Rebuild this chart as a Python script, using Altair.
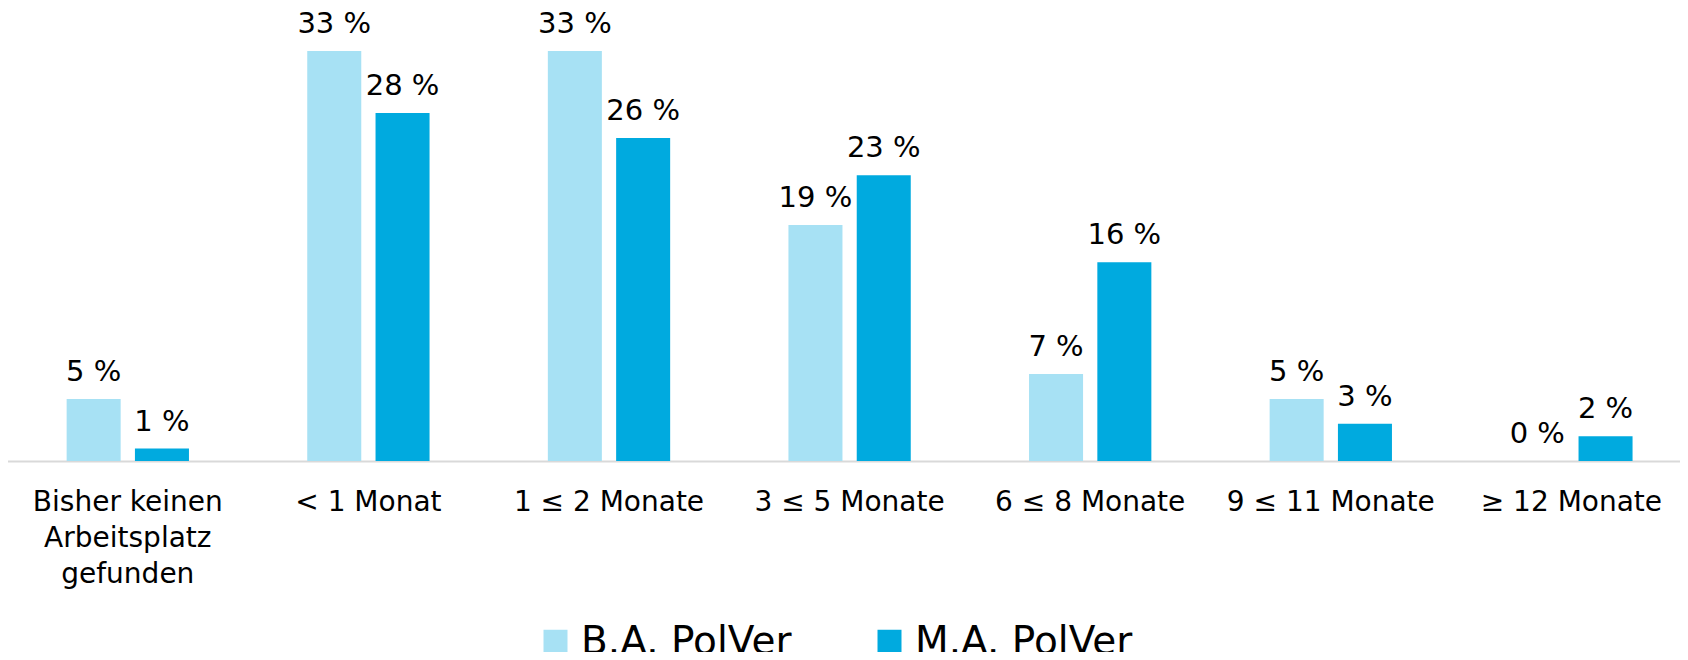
import altair as alt
import pandas as pd

categories = [
    "Bisher keinen|Arbeitsplatz|gefunden",
    "< 1 Monat",
    "1 ≤ 2 Monate",
    "3 ≤ 5 Monate",
    "6 ≤ 8 Monate",
    "9 ≤ 11 Monate",
    "≥ 12 Monate",
]
series = ["B.A. PolVer", "M.A. PolVer"]
ba_values = [5, 33, 33, 19, 7, 5, 0]
ma_values = [1, 28, 26, 23, 16, 3, 2]
colors = ["#A7E1F4", "#00AADF"]

rows = []
for c, b, m in zip(categories, ba_values, ma_values):
    rows.append({"cat": c, "series": series[0], "value": b})
    rows.append({"cat": c, "series": series[1], "value": m})
df = pd.DataFrame(rows)
df["label"] = df["value"].astype(str) + " %"

FONT = "DejaVu Sans"

base = alt.Chart(df).encode(
    x=alt.X(
        "cat:N",
        sort=categories,
        scale=alt.Scale(range=[-0.5, 1683.7], paddingInner=0, paddingOuter=0),
        axis=alt.Axis(
            title=None,
            labelAngle=0,
            ticks=False,
            domain=True,
            domainColor="#D9D9D9",
            domainWidth=2,
            labelFont=FONT,
            labelFontSize=28,
            labelColor="#000000",
            labelPadding=27,
            labelBaseline="top",
            labelLineHeight=36,
            labelLimit=400,
            labelOverlap=False,
            labelExpr="split(datum.label, '|')",
        ),
    ),
    xOffset=alt.XOffset(
        "series:N", sort=series, scale=alt.Scale(paddingInner=0.209, paddingOuter=0.866)
    ),
    y=alt.Y("value:Q", scale=alt.Scale(domain=[0, 36.46]), axis=None),
)

bars = base.mark_bar().encode(
    color=alt.Color(
        "series:N",
        sort=series,
        scale=alt.Scale(domain=series, range=colors),
        legend=alt.Legend(
            orient="none",
            legendX=528,
            legendY=614,
            direction="horizontal",
            title=None,
            symbolType="square",
            symbolSize=576,
            symbolStrokeWidth=0,
            symbolOpacity=1,
            labelFont=FONT,
            labelFontSize=39,
            labelColor="#000000",
            labelOffset=6,
            columnPadding=78,
            padding=0,
            labelLimit=600,
        ),
    )
)

text = base.mark_text(
    baseline="alphabetic", dy=-18, fontSize=29, font=FONT, color="#000000"
).encode(text="label:N")

chart = (
    alt.layer(bars, text)
    .properties(
        width=1672,
        height=453,
        autosize=alt.AutoSizeParams(type="none"),
        padding={"left": 0, "top": 0, "right": 0, "bottom": 191},
    )
    .configure_view(stroke=None)
)

chart.save("out.html", embed_options={"renderer": "svg", "actions": False})
